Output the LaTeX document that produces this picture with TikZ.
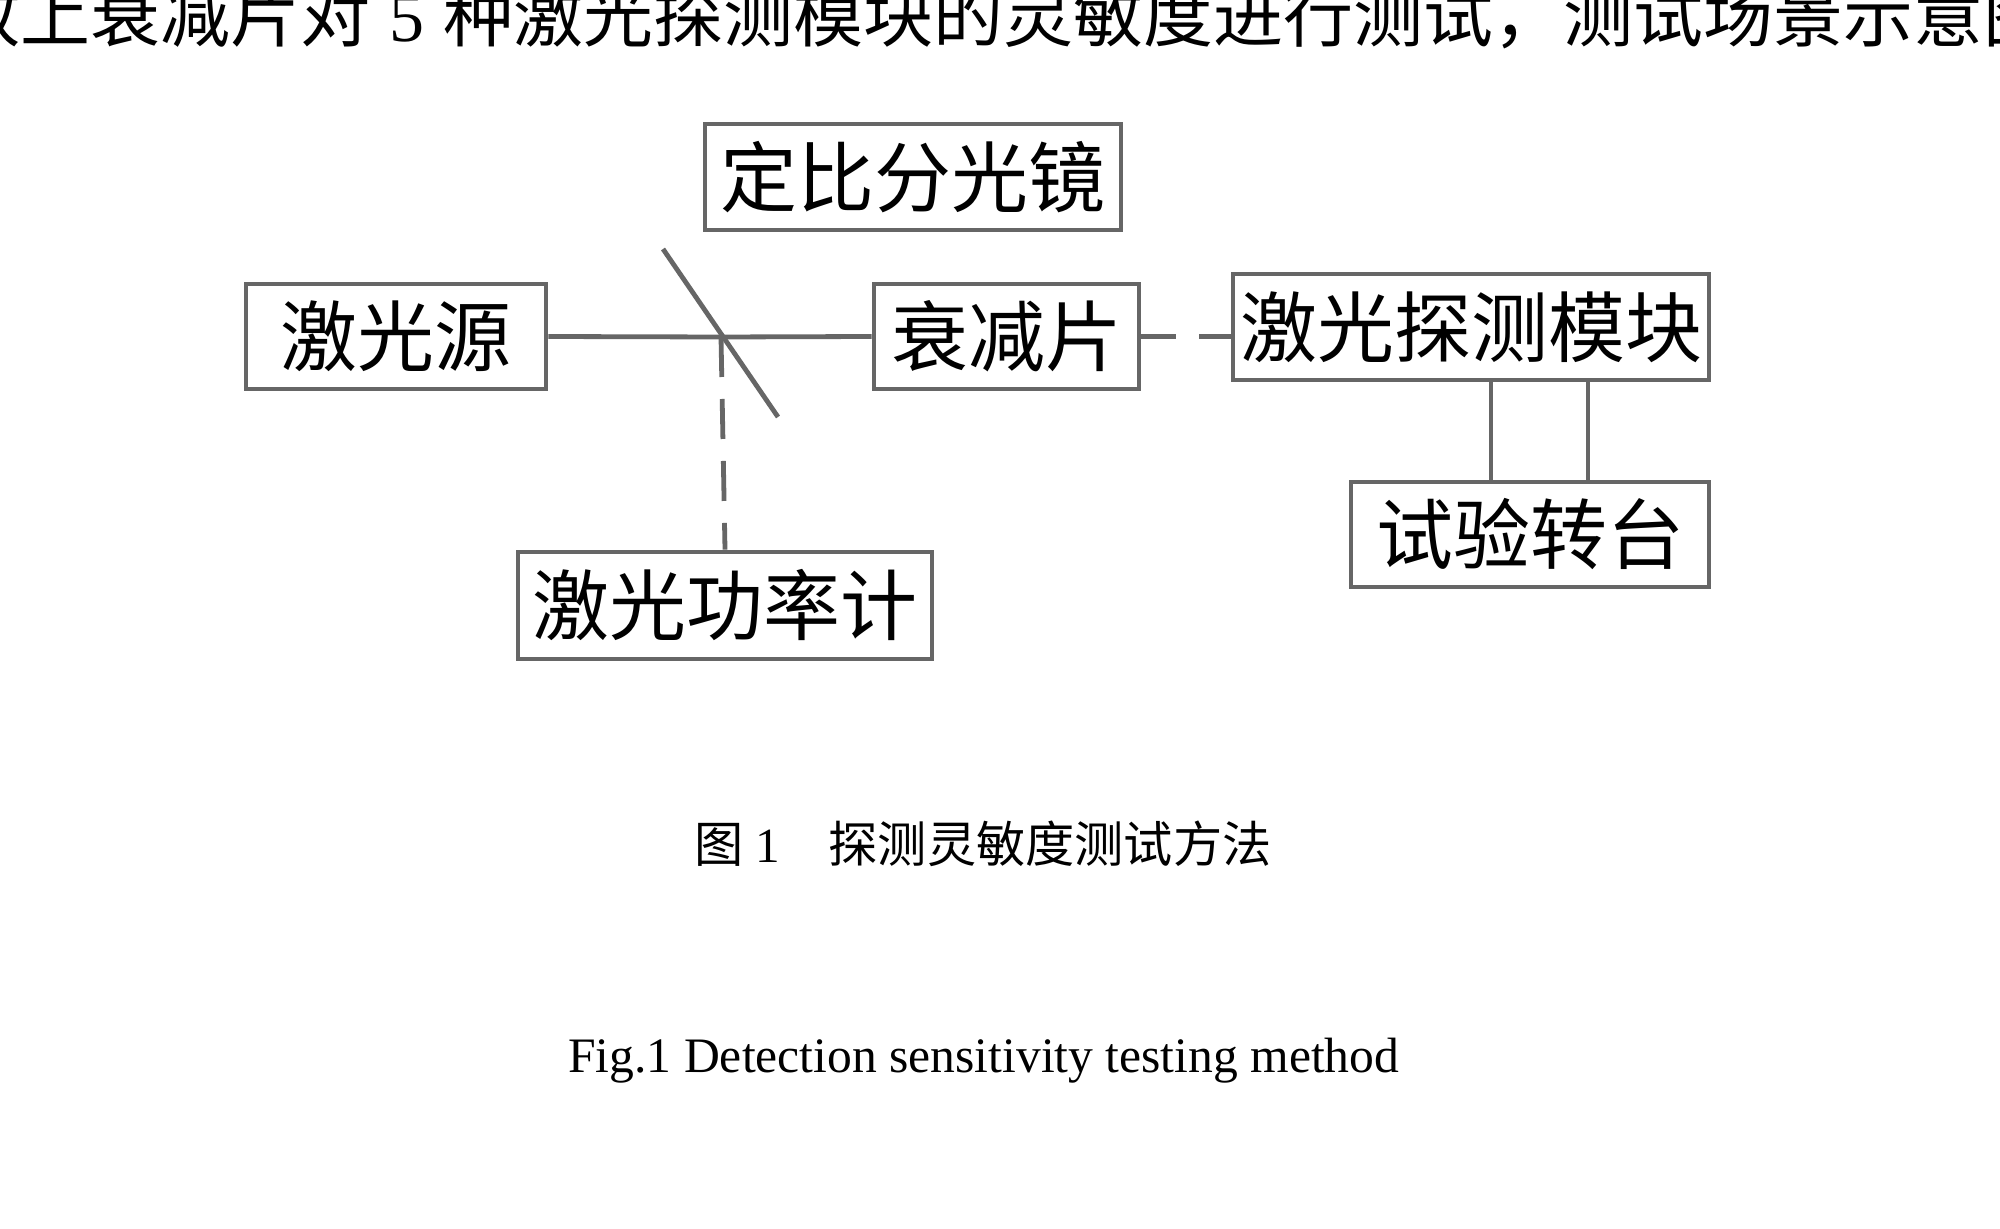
\documentclass[tikz,border=0pt]{standalone}
\usepackage{fontspec}
\setmainfont{Liberation Serif}
\newfontfamily\cjk{Noto Sans CJK SC}
\definecolor{linegray}{HTML}{666666}
\begin{document}
\begin{tikzpicture}[x=0.5pt,y=-0.5pt,
  boxstyle/.style={draw=linegray, line width=2.4pt, fill=white, rectangle, inner sep=0pt,
    font=\fontsize{38.5}{38.5}\selectfont\cjk},
  wire/.style={draw=linegray, line width=2.4pt},
  dashwire/.style={wire, dash pattern=on 20pt off 11pt},
  dashwireb/.style={wire, dash pattern=on 17.5pt off 11.5pt}]
\clip (0,0) rectangle (2000,1229);
\fill[white] (0,0) rectangle (2000,1229);

% top (cut-off) text line
\node[anchor=base west, inner sep=0pt, font=\fontsize{35}{35}\selectfont\cjk] (toptext) at (-50,42)
  {放上衰减片对\hspace{0.27em}{\rmfamily 5}\hspace{0.27em}种激光探测模块的灵敏度进行测试，测试场景示意图};

% boxes
\node[boxstyle, minimum width=150pt, minimum height=52.5pt] (src) at (396,336.5) {激光源};
\node[boxstyle, minimum width=208pt, minimum height=53pt] (split) at (913,177) {定比分光镜};
\node[boxstyle, minimum width=132.5pt, minimum height=52.5pt] (att) at (1006.5,336.5) {衰减片};
\node[boxstyle, minimum width=238pt, minimum height=53pt] (det) at (1471,327) {激光探测模块};
\node[boxstyle, minimum width=179pt, minimum height=52.5pt] (tt) at (1530,534.5) {试验转台};
\node[boxstyle, minimum width=207pt, minimum height=53.5pt] (pm) at (725,605.5) {激光功率计};

% beam splitter mirror
\coordinate (m1) at (663,249);
\coordinate (m2) at (778,417);
\coordinate (hit) at (721,337);
\draw[wire] (m1) -- (m2);

% beams
\draw[wire] (src.east) -- (hit) -- (att.west);
\draw[dashwire] (hit) -- (pm.north);
\draw[dashwireb] (att.east) -- (att.east -| det.west);

% connections detector - turntable
\coordinate (c1) at (1491,0);
\coordinate (c2) at (1588,0);
\draw[wire] (det.south -| c1) -- (tt.north -| c1);
\draw[wire] (det.south -| c2) -- (tt.north -| c2);

% captions
\node[anchor=base west, inner sep=0pt, font=\fontsize{24.6}{24.6}\selectfont] (capcn) at (694,862)
  {{\cjk 图} 1\hspace{0.98em}{\cjk 探测灵敏度测试方法}};
\node[anchor=base west, inner sep=0pt, font=\fontsize{24.8}{24.8}\selectfont] (capen) at (568,1072)
  {Fig.1 Detection sensitivity testing method};
\end{tikzpicture}
\end{document}
